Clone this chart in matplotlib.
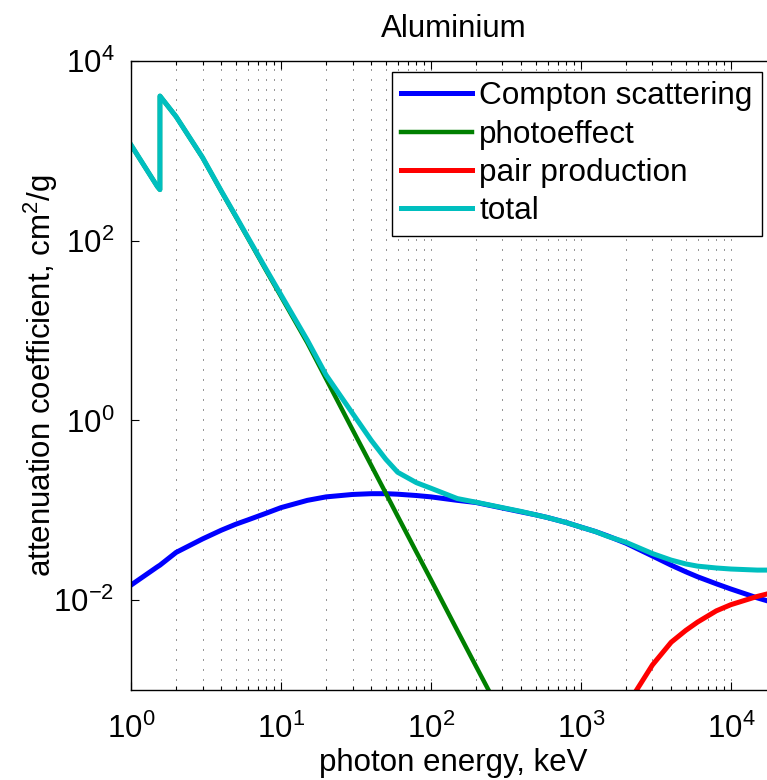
import matplotlib as mpl
mpl.use('Agg')
import matplotlib.pyplot as plt
import numpy as np

plt.rcParams['font.family'] = ['Liberation Sans', 'DejaVu Sans']
plt.rcParams['mathtext.default'] = 'regular'

# photon energy, keV (the K-edge of Al appears twice: below / above)
energy = [1, 1.5, 1.5596, 1.5596, 2, 3, 4, 5, 6, 8, 10, 15, 20, 30, 40, 50, 60, 80,
          100, 150, 200, 300, 400, 500, 600, 800, 1000, 1250, 1500, 2000, 3000,
          4000, 5000, 6000, 8000, 10000, 15000, 20000]

# attenuation coefficients, cm^2/g
compton = [0.0147, 0.0235, 0.0245, 0.0245, 0.034, 0.048, 0.060, 0.070, 0.078, 0.093,
           0.107, 0.129, 0.141, 0.150, 0.153, 0.153, 0.151, 0.146, 0.141, 0.129,
           0.122, 0.106, 0.096, 0.089, 0.083, 0.073, 0.065, 0.058, 0.052, 0.043,
           0.031, 0.0245, 0.0207, 0.0182, 0.0152, 0.0133, 0.0106, 0.0092]
photo = [1160, 400, 369, 4080, 2400, 840, 355, 185, 108, 46, 24, 7.3, 2.9, 0.79,
         0.316, 0.155, 0.086, 0.0343, 0.0169, 0.00459, 0.00183, 0.000507, np.nan,
         np.nan, np.nan, np.nan, np.nan, np.nan, np.nan, np.nan, np.nan, np.nan,
         np.nan, np.nan, np.nan, np.nan, np.nan, np.nan]
pair = [np.nan] * 29 + [0.00065, 0.0019, 0.0034, 0.0046, 0.0057, 0.0076, 0.0089,
                        0.0110, 0.0124]
total = [1166, 400, 370, 4080, 2400, 845, 358, 188, 110, 47.5, 25, 7.8, 3.2, 1.2,
         0.6, 0.37, 0.265, 0.203, 0.176, 0.135, 0.123, 0.107, 0.097, 0.089, 0.083,
         0.073, 0.065, 0.058, 0.0515, 0.044, 0.033, 0.0279, 0.0253, 0.0239, 0.0228,
         0.0222, 0.0216, 0.0216]

fig = plt.figure(figsize=(7.67, 7.80), dpi=100)
ax = fig.add_axes([131 / 767, 90 / 780, 645 / 767, 629 / 780])

ax.plot(energy, compton, color='#0000ff', lw=3.6, label='Compton scattering')
ax.plot(energy, photo, color='#008000', lw=3.2, label='photoeffect')
ax.plot(energy, pair, color='#ff0000', lw=3.6, label='pair production')
ax.plot(energy, total, color='#00bfbf', lw=3.6, label='total')

ax.set_xscale('log')
ax.set_yscale('log')
ax.set_xlim(1, 2e4)
ax.set_ylim(1e-3, 1e4)

ax.set_yticks([1e-2, 1e0, 1e2, 1e4])
ax.yaxis.set_minor_locator(mpl.ticker.NullLocator())
ax.xaxis.set_minor_locator(mpl.ticker.LogLocator(base=10, subs=np.arange(2, 10)))
ax.xaxis.set_minor_formatter(mpl.ticker.NullFormatter())

ax.tick_params(which='both', direction='in', top=True, right=True,
               labelsize=22.5, width=0.8)
ax.tick_params(axis='x', which='major', length=6, pad=17)
ax.tick_params(axis='x', which='minor', length=3)
ax.tick_params(axis='y', which='major', length=6, pad=12)

ax.grid(True, axis='x', which='both', color='#303030', lw=0.72,
        linestyle=(0, (1, 9)))

for sp in ax.spines.values():
    sp.set_linewidth(1.0)

ax.set_xlabel('photon energy, keV', fontsize=22.5, labelpad=2.5)
ax.set_ylabel('attenuation coefficient, cm$^2$/g', fontsize=22.5, labelpad=-5)
ax.set_title('Aluminium', fontsize=22.5, pad=17)

leg = ax.legend(loc='upper right', bbox_to_anchor=(762 / 767, 1 - 72 / 780),
                bbox_transform=fig.transFigure, borderaxespad=0,
                fontsize=22.7, handlelength=2.25, handletextpad=0.22,
                labelspacing=0.26, borderpad=0.3, fancybox=False, framealpha=1)
leg.get_frame().set_edgecolor('black')
leg.get_frame().set_linewidth(1.0)

fig.savefig('out.png', dpi=100)
